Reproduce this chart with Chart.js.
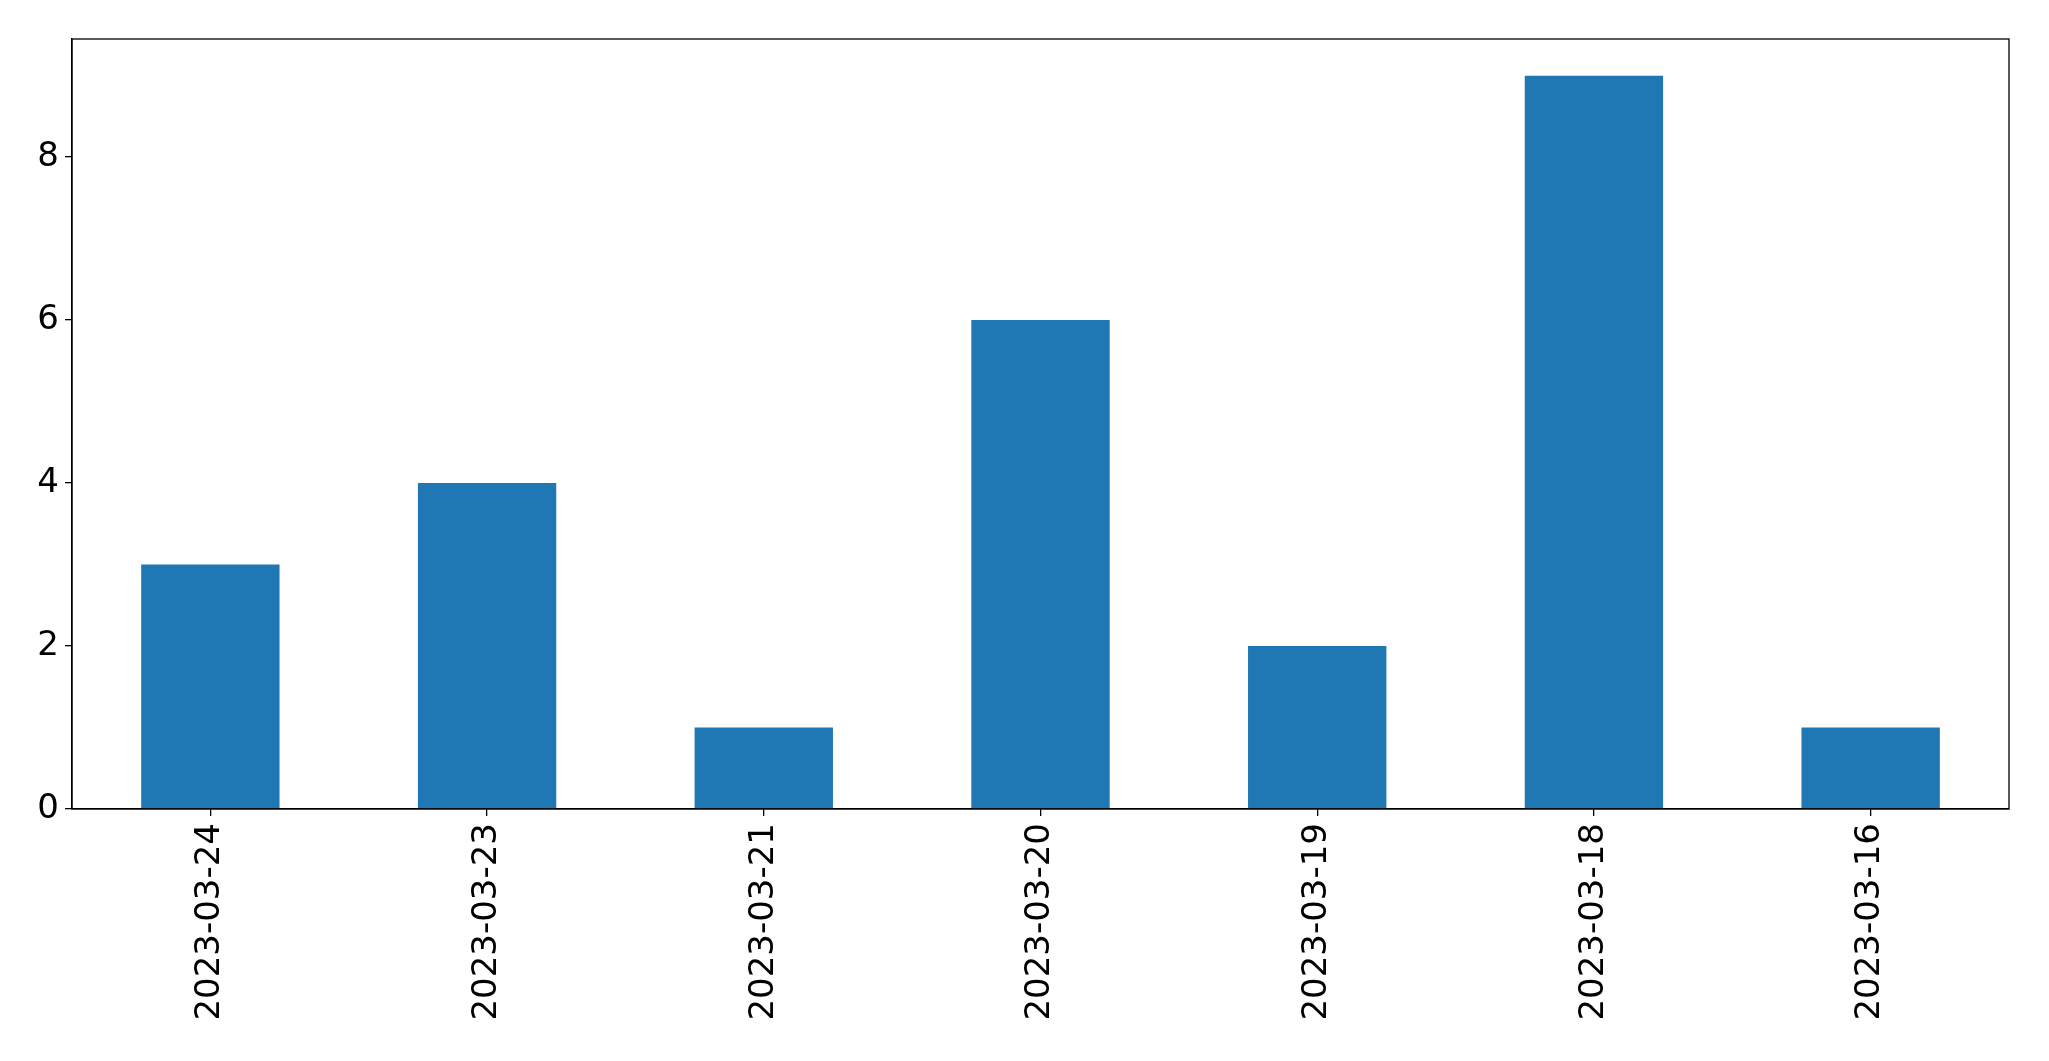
<!DOCTYPE html>
<html>
<head>
<meta charset="utf-8">
<script src="https://cdn.jsdelivr.net/npm/chart.js@4/dist/chart.umd.min.js"></script>
<style>
  body { margin: 0; background: #fff; }
  canvas { display: block; }
</style>
</head>
<body>
<canvas id="chart" width="2049" height="1061"></canvas>
<script>
// Данные графика
const dates = ['2023-03-24', '2023-03-23', '2023-03-21', '2023-03-20', '2023-03-19', '2023-03-18', '2023-03-16'];
const counts = [3, 4, 1, 6, 2, 9, 1];
const yTicks = [0, 2, 4, 6, 8];

// Рамка вокруг области графика
const frame = {
    id: 'frame',
    afterDraw(chart) {
        const a = chart.chartArea;
        const c = chart.ctx;
        c.save();
        c.strokeStyle = '#000';
        c.lineWidth = 1.3;
        c.strokeRect(a.left, a.top, a.right - a.left, a.bottom - a.top);
        c.restore();
    }
};

const font = { family: 'DejaVu Sans', size: 34 };

const ctx = document.getElementById('chart').getContext('2d');
new Chart(ctx, {
    type: 'bar',
    data: {
        labels: dates,
        datasets: [{
            data: counts,
            backgroundColor: '#1f77b4',
            borderWidth: 0,
            barPercentage: 0.5,
            categoryPercentage: 1.0
        }]
    },
    options: {
        responsive: false,
        animation: false,
        layout: { padding: { top: 39, right: 40, left: 0, bottom: 0 } },
        plugins: {
            legend: { display: false },
            tooltip: { enabled: false }
        },
        scales: {
            x: {
                grid: { display: true, offset: false, drawOnChartArea: false, drawTicks: true, tickLength: 7, color: '#000', lineWidth: 1.3 },
                border: { display: true, color: '#000', width: 1.3 },
                ticks: { font: font, color: '#000', minRotation: 90, maxRotation: 90, padding: 7 },
                afterFit(scale) { scale.height = 252; }
            },
            y: {
                min: 0,
                max: 9.45,
                grid: { display: true, drawOnChartArea: false, drawTicks: true, tickLength: 7, color: '#000', lineWidth: 1.3 },
                border: { display: true, color: '#000', width: 1.3 },
                ticks: { font: font, color: '#000', includeBounds: false, stepSize: 2, padding: 6 },
                afterBuildTicks(scale) { scale.ticks = yTicks.map(v => ({ value: v })); },
                afterFit(scale) { scale.width = 72; }
            }
        }
    },
    plugins: [frame]
});
</script>
</body>
</html>
